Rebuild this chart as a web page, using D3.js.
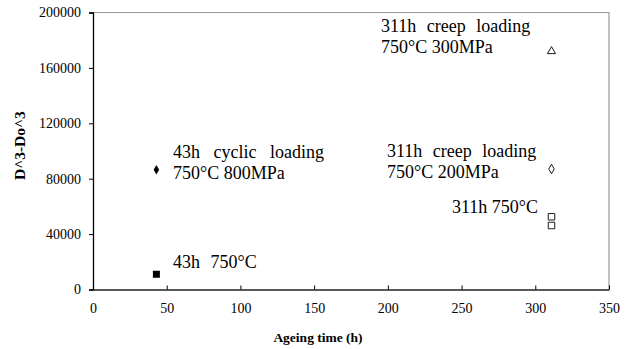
<!DOCTYPE html>
<html><head><meta charset="utf-8">
<script src="https://cdn.jsdelivr.net/npm/d3@7"></script>
<style>body{margin:0;background:#fff}svg{display:block}</style>
</head><body><svg id="c" width="630" height="349"></svg>
<script>
const xTicks = [0,50,100,150,200,250,300,350];
const yTicks = [0,40000,80000,120000,160000,200000];
const seriesNames = ["43h 750C","43h cyclic","311h creep 300","311h creep 200","311h 750C"];
const seriesX = [43, 43, 311, 311, 311];
const seriesY = [[11000],[86500],[172000],[87000],[52500, 46200]];
const seriesShape = ["squareFilled","diamondFilled","triangleOpen","diamondOpen","squareOpen"];
const annotationLines = [
  ["43h 750°C"],
  ["43h cyclic loading","750°C 800MPa"],
  ["311h creep loading","750°C 300MPa"],
  ["311h creep loading","750°C 200MPa"],
  ["311h 750°C"]
];
const xTitle = "Ageing time (h)";
const yTitle = "D^3-Do^3";

const svg = d3.select("#c");
const L=93, R=609, T=12.5, B=289.5;
const x = d3.scaleLinear().domain([0,350]).range([L,R]);
const y = d3.scaleLinear().domain([0,200000]).range([B,T]);
const serif = "'Liberation Serif','Times New Roman',serif";

// plot border (gray top/right)
svg.append("path").attr("d",`M${L},${T}H${R}V${B}`).attr("fill","none").attr("stroke","#9a9a9a").attr("stroke-width",1.2);

// y axis
const ya = svg.append("g").attr("transform",`translate(${L},0)`)
  .call(d3.axisLeft(y).tickValues(yTicks).tickSize(4).tickPadding(8).tickFormat(d3.format("d")));
ya.select(".domain").attr("stroke","#000").attr("stroke-width",1.3);
ya.selectAll("text").attr("font-family",serif).attr("font-size",14).attr("fill","#000");

// x axis with inward ticks
const xa = svg.append("g").attr("transform",`translate(0,${B})`)
  .call(d3.axisBottom(x).tickValues(xTicks).tickSizeInner(-4).tickSizeOuter(0).tickPadding(14));
xa.select(".domain").attr("stroke","#222").attr("stroke-width",1.3);
xa.selectAll("text").attr("font-family",serif).attr("font-size",14).attr("fill","#000");

// axis titles
svg.append("text").attr("x",318).attr("y",342).attr("text-anchor","middle")
  .attr("font-family",serif).attr("font-weight","bold").attr("font-size",13.5).text(xTitle);
svg.append("clipPath").attr("id","yc").append("rect").attr("x",0).attr("y",107).attr("width",60).attr("height",120);
svg.append("g").attr("clip-path","url(#yc)").append("text")
  .attr("transform","translate(25,180) rotate(-90)")
  .attr("font-family",serif).attr("font-weight","bold").attr("font-size",15.5).text(yTitle);

// markers
const sym = {
  squareFilled: {t:d3.symbolSquare, s:49, fill:"#000", stroke:"none"},
  diamondFilled:{t:d3.symbolDiamond, s:26, fill:"#000", stroke:"none"},
  triangleOpen: {t:d3.symbolTriangle, s:28, fill:"#fff", stroke:"#000"},
  diamondOpen:  {t:d3.symbolDiamond, s:26, fill:"#fff", stroke:"#000"},
  squareOpen:   {t:d3.symbolSquare, s:42, fill:"#fff", stroke:"#000"}
};
seriesNames.forEach((n,i)=>{
  const s = sym[seriesShape[i]];
  seriesY[i].forEach(v=>{
    svg.append("path").attr("d",d3.symbol().type(s.t).size(s.s)())
      .attr("transform",`translate(${x(seriesX[i])},${y(v)})`)
      .attr("fill",s.fill).attr("stroke",s.stroke).attr("stroke-width",0.9);
  });
});

// annotations
const annPos = [
  {x:173, y:268, anchor:"start", ws:[6]},
  {x:173, y:158, anchor:"start", ws:[9,0]},
  {x:381, y:32, anchor:"start", ws:[6,0]},
  {x:387, y:157, anchor:"start", ws:[6,0]},
  {x:538, y:213, anchor:"end", ws:[0]}
];
annotationLines.forEach((lines,i)=>{
  const p = annPos[i];
  lines.forEach((ln,j)=>{
    svg.append("text").attr("font-family",serif).attr("font-size",18)
      .attr("text-anchor",p.anchor).attr("fill","#000")
      .attr("x",p.x).attr("y",p.y + j*20.5)
      .style("word-spacing",p.ws[j]+"px").text(ln);
  });
});
</script></body></html>
